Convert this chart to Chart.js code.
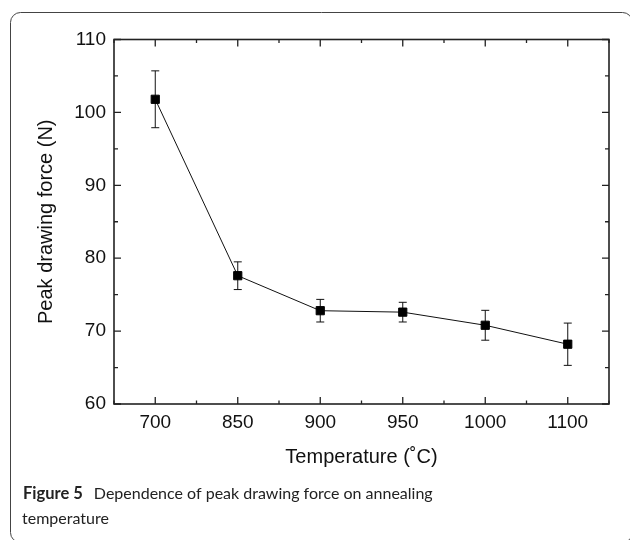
<!DOCTYPE html>
<html>
<head>
<meta charset="utf-8">
<script src="https://cdn.jsdelivr.net/npm/chart.js@4.4.1/dist/chart.umd.min.js"></script>
<style>
  html, body { margin: 0; padding: 0; background: #fff; }
  #wrap { width: 630px; height: 540px; position: relative; }
</style>
</head>
<body>
<div id="wrap"><canvas id="viz"></canvas></div>
<script>
// values
const temperatures = ['700', '850', '900', '950', '1000', '1100'];
const peakForce = [101.8, 77.6, 72.8, 72.6, 70.8, 68.2];
const forceError = [3.9, 1.9, 1.55, 1.35, 2.05, 2.9];
const yMajorTicks = [60, 70, 80, 90, 100, 110];
const yMinorTicks = [65, 75, 85, 95, 105];

const captionBold = 'Figure 5';
const captionLine1 = 'Dependence of peak drawing force on annealing';
const captionLine2 = 'temperature';

const axisFont = 'Liberation Sans, Arial, sans-serif';
const captionFont = 'Lato, "Noto Sans", sans-serif';

// error bars (vertical line + caps)
const errorBarPlugin = {
  id: 'errorBars',
  beforeDatasetsDraw(chart) {
    const ctx = chart.ctx;
    const x = chart.scales.x;
    const y = chart.scales.y;
    ctx.save();
    ctx.strokeStyle = '#111';
    ctx.lineWidth = 1;
    peakForce.forEach((v, i) => {
      const px = x.getPixelForValue(i);
      const top = y.getPixelForValue(v + forceError[i]);
      const bot = y.getPixelForValue(v - forceError[i]);
      ctx.beginPath();
      ctx.moveTo(px, top);
      ctx.lineTo(px, bot);
      ctx.moveTo(px - 4, top);
      ctx.lineTo(px + 4, top);
      ctx.moveTo(px - 4, bot);
      ctx.lineTo(px + 4, bot);
      ctx.stroke();
    });
    ctx.restore();
  }
};

// closed box with inward ticks on all four sides, plus figure frame and caption
const framePlugin = {
  id: 'frameBox',
  afterDraw(chart) {
    const ctx = chart.ctx;
    const area = chart.chartArea;
    const x = chart.scales.x;
    const y = chart.scales.y;
    ctx.save();

    // outer rounded frame of the figure
    ctx.strokeStyle = '#444';
    ctx.lineWidth = 1;
    ctx.beginPath();
    ctx.roundRect(10.5, 12.5, 622, 530, 10);
    ctx.stroke();

    // plot box
    ctx.strokeStyle = '#222';
    ctx.lineWidth = 1.6;
    ctx.strokeRect(area.left, area.top, area.right - area.left, area.bottom - area.top);

    ctx.lineWidth = 1.3;
    ctx.beginPath();
    temperatures.forEach((t, i) => {
      const px = x.getPixelForValue(i);
      ctx.moveTo(px, area.bottom); ctx.lineTo(px, area.bottom - 7);
      ctx.moveTo(px, area.top); ctx.lineTo(px, area.top + 7);
    });
    for (let i = -0.5; i <= temperatures.length - 0.5; i += 1) {
      const px = x.getPixelForValue(i);
      ctx.moveTo(px, area.bottom); ctx.lineTo(px, area.bottom - 3.5);
      ctx.moveTo(px, area.top); ctx.lineTo(px, area.top + 3.5);
    }
    yMajorTicks.forEach(v => {
      const py = y.getPixelForValue(v);
      ctx.moveTo(area.left, py); ctx.lineTo(area.left + 7, py);
      ctx.moveTo(area.right, py); ctx.lineTo(area.right - 7, py);
    });
    yMinorTicks.forEach(v => {
      const py = y.getPixelForValue(v);
      ctx.moveTo(area.left, py); ctx.lineTo(area.left + 4, py);
      ctx.moveTo(area.right, py); ctx.lineTo(area.right - 4, py);
    });
    ctx.stroke();

    // caption
    ctx.fillStyle = '#222';
    ctx.textBaseline = 'alphabetic';
    ctx.textAlign = 'left';
    ctx.font = 'bold 16.5px ' + captionFont;
    ctx.fillText(captionBold, 23, 499);
    const w = ctx.measureText(captionBold).width;
    ctx.font = '16px ' + captionFont;
    ctx.fillText(captionLine1, 23 + w + 11, 499);
    ctx.fillText(captionLine2, 22, 524);
    ctx.restore();
  }
};

const ctx = document.getElementById('viz');

new Chart(ctx, {
  type: 'line',
  data: {
    labels: temperatures,
    datasets: [{
      label: 'Peak drawing force',
      data: peakForce,
      borderColor: '#111',
      borderWidth: 1,
      pointStyle: 'rect',
      pointRadius: 5.8,
      pointBackgroundColor: '#000',
      pointBorderColor: '#000',
      pointBorderWidth: 1,
      tension: 0
    }]
  },
  options: {
    responsive: true,
    maintainAspectRatio: false,
    animation: false,
    layout: {
      padding: { left: 0, right: 21, top: 39.5, bottom: 0 }
    },
    plugins: {
      legend: { display: false },
      tooltip: { enabled: false }
    },
    scales: {
      x: {
        type: 'category',
        offset: true,
        grid: { display: false, drawTicks: false },
        border: { display: false },
        ticks: {
          color: '#111',
          padding: 7,
          font: { family: axisFont, size: 19 },
          maxRotation: 0,
          autoSkip: false
        },
        title: {
          display: true,
          text: 'Temperature (˚C)',
          color: '#111',
          font: { family: axisFont, size: 20 },
          padding: { top: 0, bottom: 71 }
        },
        afterFit(scale) { scale.height = 136; }
      },
      y: {
        min: 60,
        max: 110,
        grid: { display: false, drawTicks: false },
        border: { display: false },
        ticks: {
          stepSize: 10,
          color: '#111',
          padding: 8,
          font: { family: axisFont, size: 19 }
        },
        title: {
          display: true,
          text: 'Peak drawing force (N)',
          color: '#111',
          font: { family: axisFont, size: 20 },
          padding: { top: 34, bottom: 0 }
        },
        afterFit(scale) { scale.width = 114; }
      }
    }
  },
  plugins: [errorBarPlugin, framePlugin]
});
</script>
</body>
</html>
